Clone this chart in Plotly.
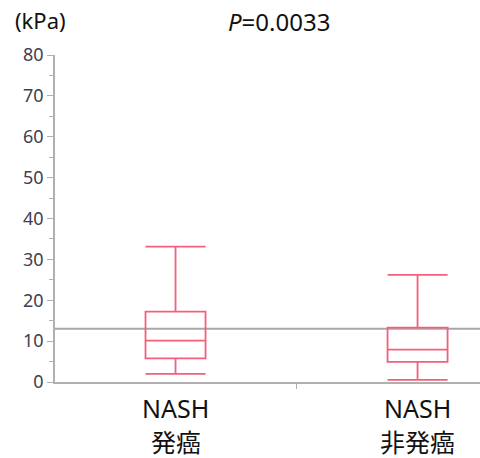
import plotly.graph_objects as go

categories = ["NASH<br>発癌", "NASH<br>非発癌"]
cat_line1 = ["NASH", "NASH"]
cat_line2 = ["発癌", "非発癌"]
lower_whisker = [2.0, 0.5]
q1 = [5.8, 4.9]
median = [10.1, 7.9]
q3 = [17.2, 13.3]
upper_whisker = [33.1, 26.2]
cutoff = 13.0
y_ticks = [0, 10, 20, 30, 40, 50, 60, 70, 80]

xpos = list(range(len(categories)))
box_color = "#f4607a"

W, H = 480, 458
ML, MT, MB, MR = 55, 55, 76, 0
plot_w = W - ML - MR

fig = go.Figure()
fig.add_trace(go.Box(
    x=xpos, q1=q1, median=median, q3=q3,
    lowerfence=lower_whisker, upperfence=upper_whisker,
    width=0.248, whiskerwidth=1,
    line=dict(color=box_color, width=1.8),
    fillcolor="rgba(255,255,255,0)",
    boxpoints=False, showlegend=False, hoverinfo="skip",
))

fig.add_shape(type="line", xref="paper", yref="y", x0=0, x1=1, y0=cutoff, y1=cutoff,
              line=dict(color="#a8a8a8", width=2), layer="below")

font_family = "Noto Sans, Noto Sans CJK JP"
for i in xpos:
    fig.add_annotation(x=i, y=0, xref="x", yref="paper", yshift=-26, text=cat_line1[i],
                       showarrow=False, font=dict(size=25, color="#111", family=font_family),
                       xanchor="center", yanchor="middle")
    fig.add_annotation(x=i, y=0, xref="x", yref="paper", yshift=-60, text=cat_line2[i],
                       showarrow=False, font=dict(size=25, color="#111", family=font_family),
                       xanchor="center", yanchor="middle")

fig.add_annotation(xref="paper", yref="paper", x=(279 - ML) / plot_w, y=1, yshift=34,
                   text="<i>P</i>=0.0033", showarrow=False,
                   font=dict(size=24, color="#111", family=font_family),
                   xanchor="center", yanchor="middle")
fig.add_annotation(xref="paper", yref="paper", x=(40 - ML) / plot_w, y=1, yshift=35,
                   text="(kPa)", showarrow=False,
                   font=dict(size=22, color="#111", family=font_family),
                   xanchor="center", yanchor="middle")

fig.update_layout(
    width=W, height=H,
    margin=dict(l=ML, r=MR, t=MT, b=MB),
    paper_bgcolor="white", plot_bgcolor="white",
    font=dict(family=font_family),
    xaxis=dict(range=[-0.498, 1.258], tickvals=[0.5], ticktext=[""], ticks="outside",
               ticklen=5, tickcolor="#b0b0b0", showline=True, linecolor="#b0b0b0",
               linewidth=1.5, showgrid=False, zeroline=False, fixedrange=True,
               automargin=False),
    yaxis=dict(range=[0, 80], tickvals=y_ticks, ticks="outside", ticklen=6,
               tickcolor="#b0b0b0", showline=True, linecolor="#b0b0b0", linewidth=1.5,
               showgrid=False, zeroline=False, automargin=False,
               tickfont=dict(size=18, color="#404050"),
               minor=dict(dtick=5, ticks="outside", ticklen=4, tickcolor="#b0b0b0", showgrid=False)),
)

fig.write_html("out.html", config={"displayModeBar": False},
               post_script="document.body.style.margin='0';document.body.style.overflow='hidden';")
